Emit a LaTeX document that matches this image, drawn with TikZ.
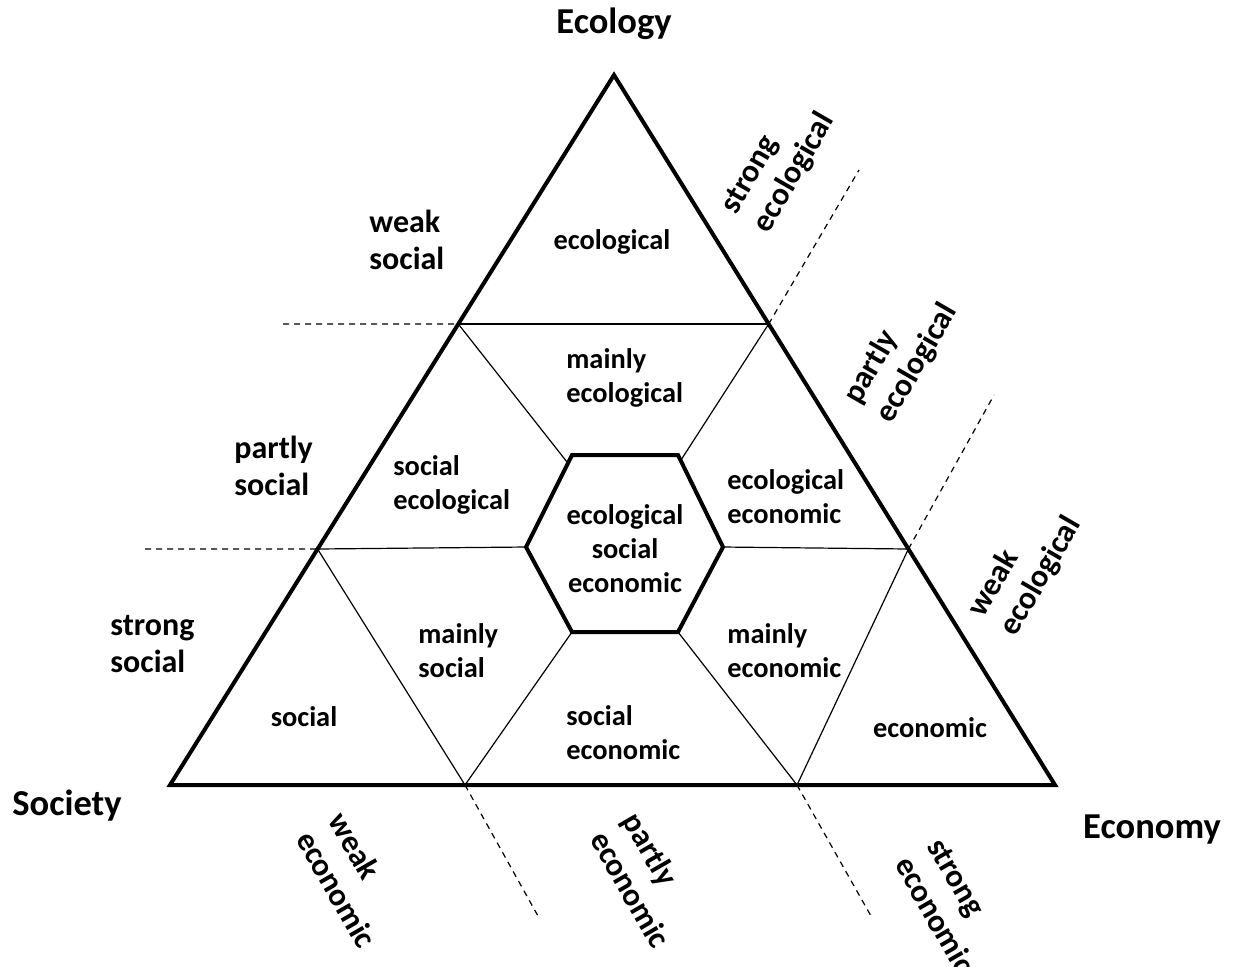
\documentclass[tikz,border=0pt]{standalone}
\usepackage{fontspec}
\setmainfont{Carlito}
\usetikzlibrary{calc}

\begin{document}
\begin{tikzpicture}[x=0.5pt, y=-0.5pt,
    every node/.style={inner sep=0pt},
    edge/.style={line width=2pt, line join=miter},
    grid/.style={line width=0.6pt},
    guide/.style={line width=0.6pt, dash pattern=on 3pt off 2.5pt},
    corner/.style={font=\fontsize{18.25}{21}\selectfont\bfseries},
    level/.style={font=\fontsize{16}{18.75}\selectfont\bfseries, align=left},
    region/.style={font=\fontsize{14.2}{17}\selectfont\bfseries, align=left}]

        % Frame
        \useasboundingbox (0,0) rectangle (1236,966);

        % Corners
        \coordinate (ecol) at (614,75);
        \coordinate (soc) at (170,785);
        \coordinate (econ) at (1055,785);

        % Points on the sides
        \coordinate (l1) at ($(ecol)!0.3507!(soc)$);
        \coordinate (l2) at ($(ecol)!0.6676!(soc)$);
        \coordinate (r1) at ($(ecol)!0.3507!(econ)$);
        \coordinate (r2) at ($(ecol)!0.6676!(econ)$);
        \coordinate (b1) at (465,785);
        \coordinate (b2) at (797,785);

        % Hexagon
        \coordinate (h1) at (572,455);
        \coordinate (h2) at (678,455);
        \coordinate (h3) at (723,547);
        \coordinate (h4) at (678,632);
        \coordinate (h5) at (572,632);
        \coordinate (h6) at (526,547);
        \coordinate (e1) at (567,462);
        \coordinate (e2) at (681,460);

        % Inner lines
        \draw[grid] (l1) -- (r1);
        \draw[grid] (l1) -- (e1);
        \draw[grid] (r1) -- (e2);
        \draw[grid] (l2) -- (h6);
        \draw[grid] (h3) -- (r2);
        \draw[grid] (l2) -- (b1) -- (h5);
        \draw[grid] (h4) -- (b2) -- (r2);

        % Dashed guides
        \coordinate (g1) at (283,324);
        \coordinate (g2) at (145,549);
        \coordinate (g3) at (859,170);
        \coordinate (g4) at (994,395);
        \coordinate (g5) at (538,916);
        \coordinate (g6) at (871,916);
        \foreach \a/\b in {g1/l1, g2/l2, r1/g3, r2/g4, b1/g5, b2/g6} \draw[guide] (\a) -- (\b);

        % Triangle and hexagon
        \draw[edge] (ecol) -- (soc) -- (econ) -- cycle;
        \draw[edge] (h1) -- (h2) -- (h3) -- (h4) -- (h5) -- (h6) -- cycle;

        % Corner labels
        \node[corner] (ecology) at (614,24) {Ecology};
        \node[corner] (society) at (67,806) {Society};
        \node[corner] (economy) at (1152,830) {Economy};

        % Social levels
        \node[level, anchor=west] (weaksoc) at (369,240) {weak\\social};
        \node[level, anchor=west] (partsoc) at (234,466) {partly\\social};
        \node[level, anchor=west] (strongsoc) at (110,644) {strong\\social};

        % Ecological levels
        \node[level, rotate=60] (strongecol) at (779,164) {strong\\ecological};
        \node[level, rotate=60] (partecol) at (901,354) {partly\\ecological};
        \node[level, rotate=60] (weakecol) at (1025,567) {weak\\ecological};

        % Economic levels
        \node[level, rotate=-60] (weakeco) at (353,880) {weak\\economic};
        \node[level, rotate=-60] (parteco) at (647,880) {partly\\economic};
        \node[level, rotate=-60] (strongeco) at (951,906) {strong\\economic};

        % Regions
        \node[region] (ecoreg) at (612,242) {ecological};
        \node[region, anchor=west] (mainecol) at (566,378) {mainly\\ecological};
        \node[region, anchor=west] (socecol) at (393,485) {social\\ecological};
        \node[region, align=center] (allthree) at (625,549) {ecological\\social\\economic};
        \node[region, anchor=west] (ecoleco) at (727,497) {ecological\\economic};
        \node[region, anchor=west] (mainsoc) at (418,651) {mainly\\social};
        \node[region, anchor=west] (maineco) at (727,651) {mainly\\economic};
        \node[region] (socreg) at (304,717) {social};
        \node[region, anchor=west] (soceco) at (566,733) {social\\economic};
        \node[region] (ecoreg2) at (930,728) {economic};

\end{tikzpicture}
\end{document}
